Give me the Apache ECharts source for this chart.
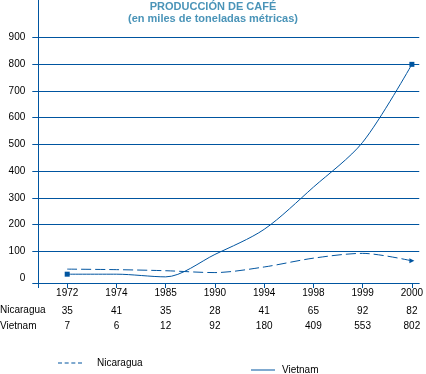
<!DOCTYPE html>
<html>
<head>
<meta charset="utf-8">
<script src="https://cdn.jsdelivr.net/npm/echarts@6/dist/echarts.min.js"></script>
<style>html,body{margin:0;padding:0;background:#fff}#c{width:426px;height:374px}</style>
</head>
<body>
<div id="c"></div>
<script>
// Category labels (years)
const years = ['1972', '1974', '1985', '1990', '1994', '1998', '1999', '2000'];
// Values as drawn by the curves
const nicaraguaDrawn = [33, 31, 27, 20, 41, 74, 92, 64];
const vietnamDrawn = [14, 14, 4, 88, 182, 340, 508, 800];
// Table values printed beneath the axis
const nicaraguaTable = ['35', '41', '35', '28', '41', '65', '92', '82'];
const vietnamTable = ['7', '6', '12', '92', '180', '409', '553', '802'];
// Y tick labels
const yTicks = [0, 100, 200, 300, 400, 500, 600, 700, 800, 900];
const gridVals = [100, 200, 300, 400, 500, 600, 700, 800, 900];

const BLUE = '#0055a0';
const TITLE = '#4a94b8';
const FONT = '"Liberation Sans", Arial, sans-serif';
const X_MIN = -0.587, X_MAX = 7.15, Y_MIN = -19, Y_MAX = 1041;
const idx = years.map((_, i) => i);
const last = years.length - 1;

function tableAxis(labels, offset) {
  return {
    type: 'value', min: X_MIN, max: X_MAX, position: 'bottom', offset: offset,
    axisLine: {show: false}, axisTick: {show: false}, splitLine: {show: false},
    axisLabel: {customValues: idx, margin: 0, color: '#000', fontSize: 10, fontFamily: FONT,
      formatter: v => labels[Math.round(v)]}
  };
}

const chart = echarts.init(document.getElementById('c'));
chart.setOption({
  animation: false,
  title: {
    text: 'PRODUCCIÓN DE CAFÉ',
    subtext: '(en miles de toneladas métricas)',
    left: 'center', top: 1, itemGap: 1, padding: 0,
    textStyle: {color: TITLE, fontSize: 11, fontWeight: 'bold', fontFamily: FONT},
    subtextStyle: {color: TITLE, fontSize: 11, fontWeight: 'bold', fontFamily: FONT}
  },
  grid: {left: 38.3, right: 0, top: 0, bottom: 91, containLabel: false},
  legend: [
    {data: [{name: 'Nicaragua', icon: 'path://M0,0H12V3H0Z M20,0H32V3H20Z M40,0H52V3H40Z M60,0H72V3H60Z'}],
      left: 58, top: 358, itemWidth: 24, itemHeight: 1, padding: 0,
      itemStyle: {color: BLUE},
      textStyle: {fontSize: 10, color: '#000', fontFamily: FONT, padding: [0, 0, 0, 10]}},
    {data: [{name: 'Vietnam', icon: 'path://M0,0H72V3H0Z'}],
      left: 251, top: 365, itemWidth: 24, itemHeight: 1, padding: 0,
      itemStyle: {color: BLUE},
      textStyle: {fontSize: 10, color: '#000', fontFamily: FONT, padding: [0, 0, 0, 2]}}
  ],
  xAxis: [
    {
      type: 'value', min: X_MIN, max: X_MAX, position: 'bottom',
      axisLine: {onZero: false, lineStyle: {color: BLUE, width: 1}},
      axisTick: {customValues: [X_MIN].concat(idx), length: 5, lineStyle: {color: BLUE}},
      splitLine: {show: false},
      axisLabel: {customValues: idx, margin: 5, color: '#000', fontSize: 10, fontFamily: FONT,
        formatter: v => years[Math.round(v)]}
    },
    tableAxis(nicaraguaTable, 23),
    tableAxis(vietnamTable, 38)
  ],
  yAxis: {
    type: 'value', min: Y_MIN, max: Y_MAX,
    axisLine: {show: true, onZero: false, lineStyle: {color: BLUE, width: 1}},
    axisTick: {show: true, customValues: [Y_MIN].concat(gridVals), length: 6, lineStyle: {color: BLUE}},
    splitLine: {show: false},
    axisLabel: {customValues: yTicks, margin: 13, color: '#000', fontSize: 10, fontFamily: FONT}
  },
  graphic: [
    {type: 'text', left: 0, top: 305, style: {text: 'Nicaragua', fontSize: 10, fontFamily: FONT, fill: '#000'}},
    {type: 'text', left: 0, top: 321, style: {text: 'Vietnam', fontSize: 10, fontFamily: FONT, fill: '#000'}}
  ],
  series: [
    {
      name: 'Nicaragua', type: 'line', xAxisIndex: 0, smooth: 0.3,
      symbol: 'none', showSymbol: true,
      lineStyle: {color: BLUE, width: 1, type: [10, 4]},
      itemStyle: {color: BLUE},
      data: nicaraguaDrawn.map((v, i) => i === last
        ? {value: [i, v], symbol: 'triangle', symbolSize: 5, symbolRotate: -90}
        : {value: [i, v]})
    },
    {
      name: 'Vietnam', type: 'line', xAxisIndex: 0, smooth: 0.3,
      symbol: 'none', showSymbol: true,
      lineStyle: {color: BLUE, width: 1},
      itemStyle: {color: BLUE},
      data: vietnamDrawn.map((v, i) => (i === 0 || i === last)
        ? {value: [i, v], symbol: 'rect', symbolSize: 5}
        : {value: [i, v]}),
      markLine: {
        silent: true, symbol: ['none', 'none'], label: {show: false},
        lineStyle: {color: BLUE, width: 1, type: 'solid'},
        data: gridVals.map(v => ({yAxis: v}))
      }
    }
  ]
});
</script>
</body>
</html>
